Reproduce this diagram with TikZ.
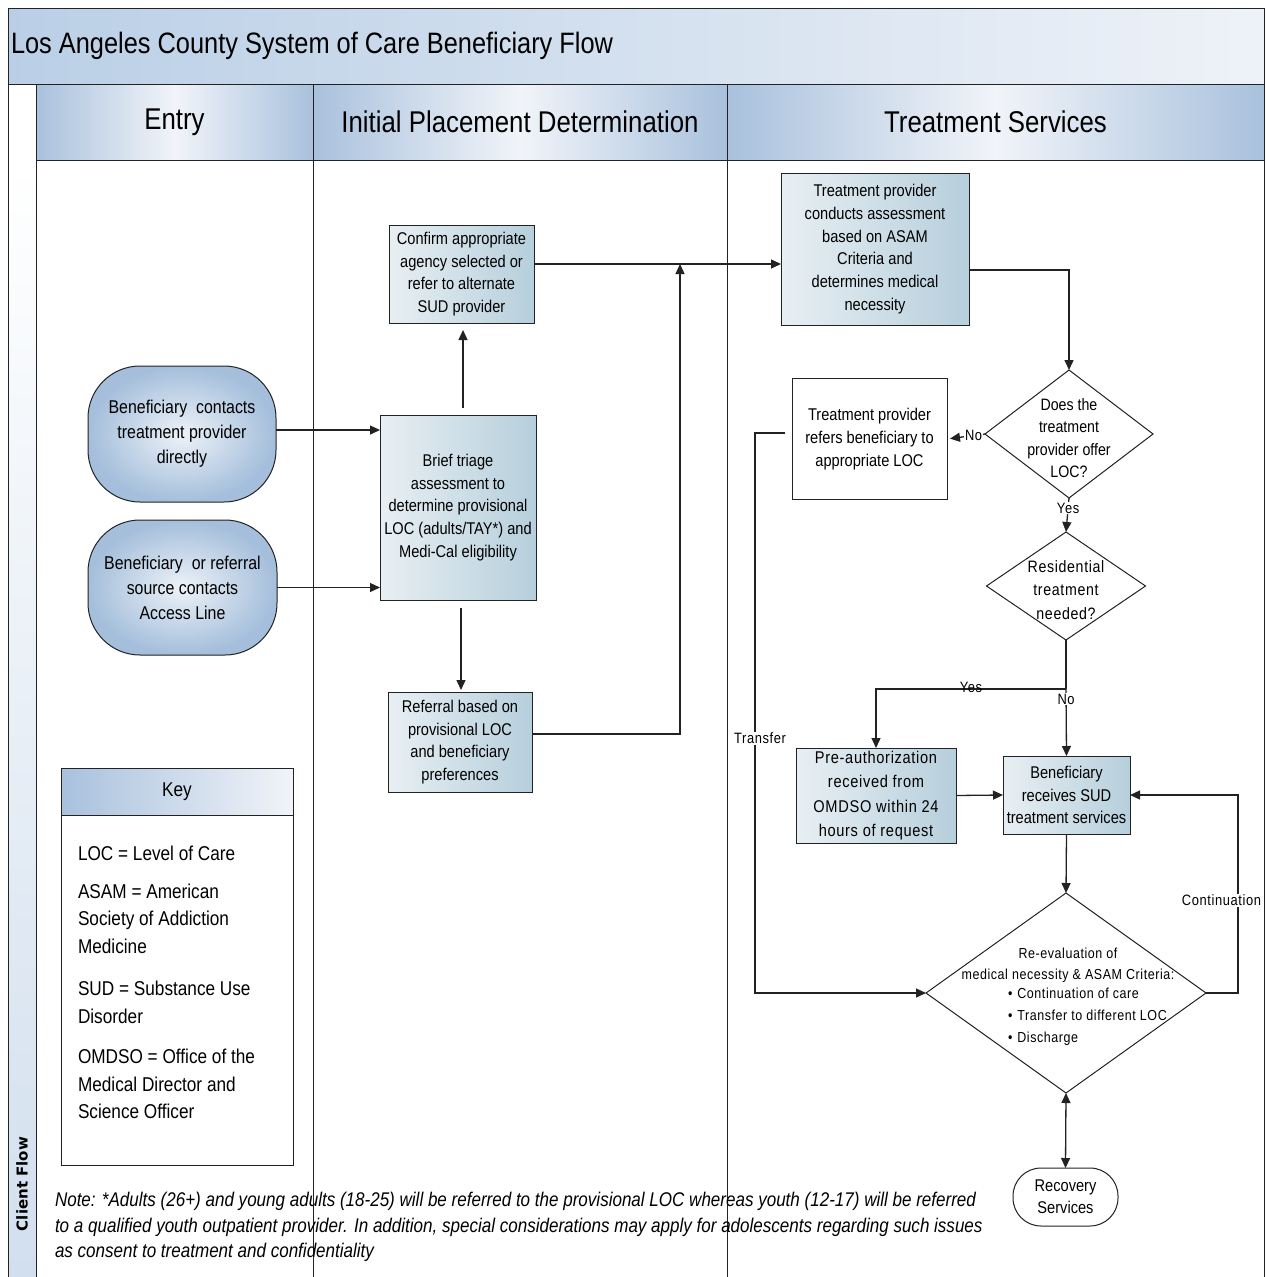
\documentclass[tikz,border=0pt]{standalone}
\usepackage{fontspec}
\setmainfont{Liberation Sans}[FakeStretch=0.86]
\newfontfamily\spacedfont{Liberation Sans}[FakeStretch=0.86,LetterSpace=4]
\newfontfamily\bandfont{DejaVu Sans}
\usetikzlibrary{arrows.meta,shapes.geometric,calc}

\definecolor{bandblue}{HTML}{BACFE6}
\definecolor{bandpale}{HTML}{EEF2F8}
\definecolor{hdrblue}{HTML}{A9C1DD}
\definecolor{hdrpale}{HTML}{F1F4F9}
\definecolor{boxpale}{HTML}{E8EFF3}
\definecolor{boxsteel}{HTML}{B6CFDC}
\definecolor{pillblue}{HTML}{A4BEDB}
\definecolor{pillpale}{HTML}{EDF2F8}
\definecolor{stripeblue}{HTML}{D2DFEE}
\definecolor{inkgray}{HTML}{222222}

\newcommand{\setfs}[2]{\fontsize{#1}{#2}\selectfont}

\begin{document}
\begin{tikzpicture}[x=1pt,y=-1pt,
  every node/.style={inner sep=0pt,outer sep=0pt,text=black},
  frame/.style={draw=inkgray,line width=1pt},
  flow/.style={draw=inkgray,line width=1.3pt},
  tip/.style={-{Triangle[length=10pt,width=9pt]}},
  bothtips/.style={{Triangle[length=10pt,width=9pt]}-{Triangle[length=10pt,width=9pt]}},
  lanehead/.style={draw=inkgray,line width=1pt,left color=hdrblue,right color=hdrblue,middle color=hdrpale,minimum height=76pt,anchor=north west,font=\setfs{30}{32}},
  procbox/.style={draw=inkgray,line width=1pt,left color=boxpale,right color=boxsteel,align=center,font=\setfs{17}{22.8}},
  pill/.style={draw=inkgray,line width=1pt,rounded corners=52pt,shading=radial,inner color=pillpale,outer color=pillblue,align=center,font=\setfs{18.5}{25}},
  decision/.style={diamond,draw=inkgray,line width=1pt,fill=white},
  dectext/.style={align=center,font=\setfs{16.5}{22.5}},
  flowlabel/.style={fill=white,inner sep=1pt,font=\spacedfont\setfs{15}{17}},
  keyline/.style={anchor=west,align=left,font=\setfs{20}{27.5}}
]
\useasboundingbox (0,0) rectangle (1266,1277);
\fill[white] (0,0) rectangle (1266,1277);

% side stripe of the swimlane pool
\fill[top color=white,bottom color=stripeblue] (8,160) rectangle (36,1277);

% title band
\node[draw=inkgray,line width=1pt,left color=bandblue,right color=bandpale,
      minimum width=1256pt,minimum height=76pt,anchor=north west] (band) at (8,8) {};
\node[anchor=west,font=\setfs{29.5}{31}] (title) at (11,46) {Los Angeles County System of Care Beneficiary Flow};

% lane headers
\node[lanehead,minimum width=277pt] (entryhd) at (36,84) {Entry};
\node[lanehead,minimum width=414pt] (placehd) at (313,84) {Initial Placement Determination};
\node[lanehead,minimum width=537pt] (treathd) at (727,84) {Treatment Services};

% pool and lane borders
\draw[frame] (8,8) -- (8,1277);
\draw[frame] (1264,8) -- (1264,1277);
\draw[frame] (36,84) -- (36,1277);
\draw[frame] (313,160) -- (313,1277);
\draw[frame] (727,160) -- (727,1277);

\node[rotate=90,font=\bandfont\bfseries\setfs{15}{17}] (poolname) at (22,1184) {Client Flow};

% entry lane
\node[pill,minimum width=188pt,minimum height=136pt] (contacts) at (182,434)
  {Beneficiary\ \ contacts\\treatment provider\\directly};
\node[pill,minimum width=189pt,minimum height=135pt] (access) at (182.5,587.5)
  {Beneficiary\ \ or referral\\source contacts\\Access Line};

% key
\node[draw=inkgray,line width=1pt,fill=white,minimum width=232pt,minimum height=397pt,anchor=north west] (keybox) at (61,768) {};
\node[draw=inkgray,line width=1pt,left color=hdrblue,right color=hdrpale,minimum width=232pt,minimum height=47pt,
      anchor=north west,font=\setfs{20}{22}] (keyhead) at (61,768) {Key};
\node[keyline] (key1) at (78,853) {LOC = Level of Care};
\node[keyline] (key2) at (78,918.5) {ASAM = American\\Society of Addiction\\Medicine};
\node[keyline] (key3) at (78,1002.5) {SUD = Substance Use\\Disorder};
\node[keyline] (key4) at (78,1084) {OMDSO = Office of the\\Medical Director and\\Science Officer};

% initial placement lane
\node[procbox,minimum width=145pt,minimum height=98pt] (confirm) at (461.5,274)
  {Confirm appropriate\\agency selected or\\refer to alternate\\SUD provider};
\node[procbox,minimum width=156pt,minimum height=185pt] (triage) at (458,507.5)
  {Brief triage\\assessment to\\determine provisional\\LOC (adults/TAY*) and\\Medi-Cal eligibility};
\node[procbox,minimum width=144pt,minimum height=100pt] (referral) at (460,742)
  {Referral based on\\provisional LOC\\and beneficiary\\preferences};

% treatment services lane
\node[procbox,minimum width=188pt,minimum height=152pt] (assess) at (875,249)
  {Treatment provider\\conducts assessment\\based on ASAM\\Criteria and\\determines medical\\necessity};
\node[decision,minimum width=168pt,minimum height=128pt] (offerq) at (1069,434) {};
\node[dectext] (offerqtext) at (1069,438) {Does the\\treatment\\provider offer\\LOC?};
\node[procbox,top color=white,bottom color=white,minimum width=155pt,minimum height=121pt] (refers) at (869.5,439)
  {Treatment provider\\refers beneficiary to\\appropriate LOC};
\node[decision,minimum width=159pt,minimum height=108pt] (resq) at (1066,586) {};
\node[dectext,font=\spacedfont\setfs{16.5}{23.5}] (resqtext) at (1066,590) {Residential\\treatment\\needed?};
\node[procbox,font=\spacedfont\setfs{17}{24.5},minimum width=160pt,minimum height=95pt] (preauth) at (876,795.5)
  {Pre-authorization\\received from\\OMDSO within 24\\hours of request};
\node[procbox,minimum width=127pt,minimum height=78pt] (receives) at (1066.5,795)
  {Beneficiary\\receives SUD\\treatment services};
\node[decision,minimum width=280pt,minimum height=200pt] (reeval) at (1066,993) {};
\node[align=center,font=\spacedfont\setfs{14.5}{20.5}] (reevaltext) at (1068,965)
  {Re-evaluation of\\medical necessity \& ASAM Criteria:};
\node[anchor=north west,align=left,font=\spacedfont\setfs{14.5}{22}] (reevallist) at (1008,988)
  {\textbullet\hspace{5pt}Continuation of care\\\textbullet\hspace{5pt}Transfer to different LOC\\\textbullet\hspace{5pt}Discharge};
\node[draw=inkgray,line width=1pt,fill=white,rounded corners=28pt,minimum width=105pt,minimum height=58pt,
      align=center,font=\setfs{17}{22}] (recovery) at (1065.5,1197) {Recovery\\Services};

% connectors
\draw[flow,tip] (contacts.east |- 0,430) -- (triage.west |- 0,430);
\draw[flow,tip] (access.east) -- (triage.west |- access.east);
\draw[flow,tip,shorten <=7pt,shorten >=7pt] ([xshift=5pt]triage.north) -- ([xshift=5pt]triage.north |- confirm.south);
\draw[flow,tip,shorten <=8pt,shorten >=2pt] ([xshift=3pt]triage.south) -- ([xshift=3pt]triage.south |- referral.north);
\coordinate (merge) at (680,264);
\draw[flow,tip] ([yshift=10pt]confirm.east) -- (assess.west |- merge);
\draw[flow,tip] ([yshift=8pt]referral.east) -| (merge);
\draw[flow,tip] ([yshift=-21pt]assess.east) -| (offerq.north);
\draw[flow,tip,shorten >=3pt] (offerq.west) -- (refers.east) node[flowlabel,pos=0.3] (nolbl1) {No};
\draw[flow,tip] (offerq.south) -- (resq.north) node[flowlabel,pos=0.3] (yeslbl1) {Yes};
\coordinate (split) at ($(resq.south)+(0,49)$);
\draw[flow] (resq.south) -- (split);
\draw[flow,tip] (split) -| (preauth.north) node[pos=0.25,anchor=south,yshift=-4pt,font=\spacedfont\setfs{15}{17}] (yeslbl2) {Yes};
\draw[flow,tip] (split) -- (receives.north) node[flowlabel,pos=0.15] (nolbl2) {No};
\draw[flow,tip] (preauth.east) -- (receives.west);
\draw[flow,tip] (receives.south) -- (reeval.north);
\draw[flow,bothtips] (reeval.south) -- (recovery.north);
\draw[flow,tip] (reeval.east) -- ++(32,0) |- (receives.east);
\node[flowlabel,anchor=east] (contlbl) at (1262,900) {Continuation};
\draw[flow,tip] ([shift={(-7pt,6pt)}]refers.west) -- ++(-30,0) |- (reeval.west);
\node[flowlabel] (transferlbl) at (760,738) {Transfer};

% footnote
\node[anchor=west,align=left,font=\itshape\setfs{19.8}{25.5}] (note) at (55,1227)
  {Note: *Adults (26+) and young adults (18-25) will be referred to the provisional LOC whereas youth (12-17) will be referred\\
   to a qualified youth outpatient provider. In addition, special considerations may apply for adolescents regarding such issues\\
   as consent to treatment and confidentiality};
\end{tikzpicture}
\end{document}
